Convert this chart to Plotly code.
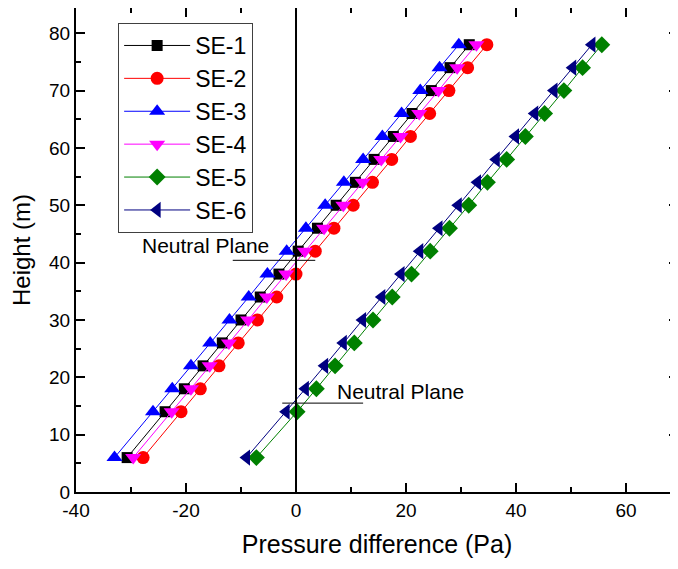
import plotly.graph_objects as go

heights = [6, 14, 18, 22, 26, 30, 34, 38, 42, 46, 50, 54, 58, 62, 66, 70, 74, 78]

se1 = [-30.7, -23.8, -20.3, -16.9, -13.4, -10.0, -6.5, -3.1, 0.4, 3.9, 7.3, 10.8, 14.2, 17.7, 21.1, 24.6, 28.0, 31.5]
se2 = [-27.8, -20.9, -17.4, -14.0, -10.5, -7.0, -3.5, 0.0, 3.5, 6.9, 10.4, 13.9, 17.4, 20.8, 24.3, 27.8, 31.2, 34.7]
se3 = [-33.0, -26.0, -22.5, -19.1, -15.6, -12.1, -8.6, -5.2, -1.7, 1.8, 5.3, 8.7, 12.2, 15.7, 19.2, 22.6, 26.1, 29.6]
se4 = [-29.6, -22.6, -19.1, -15.7, -12.2, -8.7, -5.3, -1.8, 1.6, 5.1, 8.6, 12.1, 15.5, 19.0, 22.4, 25.9, 29.3, 32.8]
se5 = [-7.2, 0.2, 3.7, 7.1, 10.6, 14.0, 17.5, 21.0, 24.4, 27.9, 31.4, 34.8, 38.3, 41.7, 45.2, 48.7, 52.1, 55.6]
se6 = [-9.0, -1.8, 1.7, 5.2, 8.6, 12.1, 15.6, 19.1, 22.5, 26.0, 29.5, 33.0, 36.4, 39.9, 43.4, 46.9, 50.3, 53.8]

series_names = ["SE-1", "SE-2", "SE-3", "SE-4", "SE-5", "SE-6"]
series_vals = [se1, se2, se3, se4, se5, se6]
colors = ["#000000", "#FF0000", "#0000FF", "#FF00FF", "#008000", "#000080"]
symbols = ["square", "circle", "triangle-up", "triangle-down", "diamond", "triangle-left"]
sizes = [11, 13, 14, 14, 13, 14]

x_tick_vals = [-40, -20, 0, 20, 40, 60]
x_tick_text = ["-40", "-20", "0", "20", "40", "60"]
y_tick_vals = [0, 10, 20, 30, 40, 50, 60, 70, 80]
y_tick_text = ["0", "10", "20", "30", "40", "50", "60", "70", "80"]

FONT = "Liberation Sans, Arial, sans-serif"

fig = go.Figure()
for name, vals, c, s, sz in zip(series_names, series_vals, colors, symbols, sizes):
    fig.add_trace(go.Scatter(
        x=vals, y=heights, name=name, mode="lines+markers",
        line=dict(color=c, width=1),
        marker=dict(symbol=s, size=sz, color=c, line=dict(width=0)),
    ))

# vertical zero line
fig.add_shape(type="line", xref="x", yref="paper", x0=0, x1=0, y0=0, y1=1,
              line=dict(color="black", width=2))
# neutral plane markers
fig.add_shape(type="line", xref="x", yref="y", x0=-11.5, x1=3.5, y0=40.4, y1=40.4,
              line=dict(color="black", width=1))
fig.add_shape(type="line", xref="x", yref="y", x0=-2.5, x1=12.2, y0=15.5, y1=15.5,
              line=dict(color="black", width=1))
fig.add_annotation(x=-28.4, y=43.0, xref="x", yref="y", text="Neutral Plane",
                   showarrow=False, xanchor="left", yanchor="middle",
                   font=dict(family=FONT, size=21, color="black"))
fig.add_annotation(x=7.1, y=17.6, xref="x", yref="y", text="Neutral Plane",
                   showarrow=False, xanchor="left", yanchor="middle",
                   font=dict(family=FONT, size=21, color="black"))

fig.update_layout(
    width=670, height=561,
    margin=dict(l=68, r=0, t=0, b=77),
    paper_bgcolor="white", plot_bgcolor="white",
    font=dict(family=FONT, size=18, color="black"),
    showlegend=True,
    legend=dict(x=0.07, y=0.969, xanchor="left", yanchor="top",
                bordercolor="#404040", borderwidth=1, bgcolor="white",
                font=dict(family=FONT, size=23, color="black"),
                itemwidth=66, tracegroupgap=0),
)
fig.update_xaxes(
    range=[-40, 69.45], tickvals=x_tick_vals, ticktext=x_tick_text,
    ticks="inside", ticklen=9, tickwidth=2, tickcolor="black",
    showline=True, linewidth=2, linecolor="black", mirror="ticks",
    showgrid=False, zeroline=False, automargin=False,
    minor=dict(ticks="inside", ticklen=5, tickwidth=2, tickcolor="black", dtick=10, showgrid=False),
    title=dict(text="Pressure difference (Pa)", font=dict(family=FONT, size=25), standoff=16),
    tickfont=dict(family=FONT, size=19),
)
fig.update_yaxes(
    range=[0, 84.4], tickvals=y_tick_vals, ticktext=y_tick_text,
    ticks="inside", ticklen=9, tickwidth=2, tickcolor="black",
    showline=True, linewidth=2, linecolor="black", mirror="ticks",
    showgrid=False, zeroline=False, automargin=False,
    minor=dict(ticks="inside", ticklen=5, tickwidth=2, tickcolor="black", dtick=5, showgrid=False),
    title=dict(text="Height (m)", font=dict(family=FONT, size=24), standoff=24),
    tickfont=dict(family=FONT, size=19),
)

fig.write_html("out.html")
